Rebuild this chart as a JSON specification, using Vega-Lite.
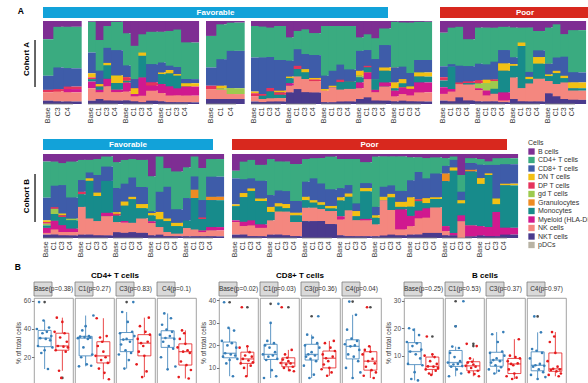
{
"$schema": "https://vega.github.io/schema/vega-lite/v6.json",
"background": "white",
"padding": {"left": 5, "top": 6, "right": 0, "bottom": 0},
"config": {"font": "Liberation Sans", "view": {"stroke": null}, "axis": {"grid": false}},
"datasets": {
"names": [
{"key":"B","cell":"B cells"},{"key":"CD4","cell":"CD4+ T cells"},{"key":"CD8","cell":"CD8+ T cells"},{"key":"DN","cell":"DN T cells"},{"key":"DP","cell":"DP T cells"},{"key":"gd","cell":"gd T cells"},{"key":"Gran","cell":"Granulocytes"},{"key":"Mono","cell":"Monocytes"},{"key":"Myel","cell":"Myeloid (HLA-DR+)"},{"key":"NK","cell":"NK cells"},{"key":"NKT","cell":"NKT cells"},{"key":"pDC","cell":"pDCs"}
],
"bars": [
{"c":"A","g":"Favorable","p":1,"t":"Base","B":22,"CD4":44,"CD8":17,"DP":3,"NK":10,"NKT":4},
{"c":"A","g":"Favorable","p":1,"t":"C3","B":7,"CD4":49,"CD8":26,"DP":3,"NK":12,"NKT":3},
{"c":"A","g":"Favorable","p":1,"t":"C4","B":7,"CD4":50,"CD8":22,"DP":3,"Myel":4,"NK":11,"NKT":3},
{"c":"A","g":"Favorable","p":2,"t":"Base","B":1,"CD4":37,"CD8":25,"DN":5,"DP":2,"Mono":3,"Myel":8,"NK":15,"NKT":4},
{"c":"A","g":"Favorable","p":2,"t":"C1","B":23,"CD4":37,"CD8":16,"DN":3,"Mono":4,"Myel":3,"NK":8,"NKT":6},
{"c":"A","g":"Favorable","p":2,"t":"C3","B":6,"CD4":26,"CD8":18,"DN":3,"Mono":16,"Myel":9,"NK":17,"NKT":4},
{"c":"A","g":"Favorable","p":2,"t":"C4","B":1,"CD4":34,"CD8":30,"DN":9,"Mono":8,"Myel":3,"NK":10,"NKT":4},
{"c":"A","g":"Favorable","p":3,"t":"Base","B":14,"CD4":36,"CD8":13,"DP":4,"Mono":2,"Myel":10,"NK":10,"NKT":4},
{"c":"A","g":"Favorable","p":3,"t":"C1","B":30,"CD4":40,"CD8":11,"DN":7,"Myel":3,"NK":6,"NKT":3},
{"c":"A","g":"Favorable","p":3,"t":"C3","B":16,"CD4":22,"DN":4,"Mono":26,"Myel":22,"NK":8,"NKT":2},
{"c":"A","g":"Favorable","p":3,"t":"C4","B":13,"CD4":39,"CD8":22,"DP":4,"Myel":6,"NK":12,"NKT":4},
{"c":"A","g":"Favorable","p":4,"t":"Base","B":13,"CD4":37,"CD8":12,"DN":2,"Mono":12,"Myel":11,"NK":10,"NKT":3},
{"c":"A","g":"Favorable","p":4,"t":"C1","B":12,"CD4":42,"CD8":5,"DN":4,"Mono":16,"Myel":11,"NK":8,"NKT":2},
{"c":"A","g":"Favorable","p":4,"t":"C3","B":10,"CD4":44,"CD8":8,"DN":2,"Mono":15,"Myel":8,"NK":8,"NKT":2},
{"c":"A","g":"Favorable","p":4,"t":"C4","B":26,"CD4":44,"CD8":5,"DN":4,"Myel":11,"NK":8,"NKT":2},
{"c":"A","g":"Favorable","p":5,"t":"Base","B":18,"CD4":38,"CD8":22,"DP":4,"NK":12,"NKT":6},
{"c":"A","g":"Favorable","p":5,"t":"C1","B":4,"CD4":42,"CD8":32,"DN":3,"gd":2,"NK":11,"NKT":6},
{"c":"A","g":"Favorable","p":5,"t":"C4","B":2,"CD4":34,"CD8":45,"gd":7,"NK":6,"NKT":6},
{"c":"A","g":"Favorable","p":6,"t":"Base","B":6,"CD4":38,"CD8":41,"DN":2,"DP":4,"NK":6,"NKT":3},
{"c":"A","g":"Favorable","p":6,"t":"C1","B":7,"CD4":37,"CD8":44,"DP":2,"Mono":4,"NK":4,"NKT":2},
{"c":"A","g":"Favorable","p":6,"t":"C3","B":8,"CD4":35,"CD8":37,"DP":4,"Mono":8,"NK":4,"NKT":3},
{"c":"A","g":"Favorable","p":6,"t":"C4","B":6,"CD4":41,"CD8":37,"DN":2,"DP":3,"Mono":4,"NK":4,"NKT":3},
{"c":"A","g":"Favorable","p":7,"t":"Base","B":20,"CD4":28,"CD8":19,"DN":2,"Mono":6,"Myel":3,"NK":8,"NKT":14},
{"c":"A","g":"Favorable","p":7,"t":"C1","B":12,"CD4":22,"CD8":20,"DP":4,"Mono":9,"NK":15,"NKT":18},
{"c":"A","g":"Favorable","p":7,"t":"C3","B":10,"CD4":30,"CD8":18,"DN":4,"Mono":8,"NK":16,"NKT":14},
{"c":"A","g":"Favorable","p":7,"t":"C4","B":15,"CD4":27,"CD8":28,"DN":2,"DP":2,"NK":14,"NKT":14},
{"c":"A","g":"Favorable","p":8,"t":"Base","B":6,"CD4":60,"CD8":16,"DN":2,"NK":14,"NKT":2},
{"c":"A","g":"Favorable","p":8,"t":"C1","B":6,"CD4":54,"CD8":18,"DN":2,"NK":18,"NKT":2},
{"c":"A","g":"Favorable","p":8,"t":"C3","B":6,"CD4":46,"CD8":18,"DP":3,"Mono":9,"NK":14,"NKT":3},
{"c":"A","g":"Favorable","p":8,"t":"C4","B":6,"CD4":52,"CD8":14,"Mono":9,"NK":15,"NKT":3},
{"c":"A","g":"Favorable","p":9,"t":"Base","B":20,"CD4":16,"CD8":24,"DN":6,"gd":2,"Mono":6,"Myel":7,"NK":13,"NKT":6},
{"c":"A","g":"Favorable","p":9,"t":"C1","B":16,"CD4":19,"CD8":19,"DP":2,"Mono":6,"Myel":8,"NK":22,"NKT":8},
{"c":"A","g":"Favorable","p":9,"t":"C3","B":21,"CD4":25,"CD8":24,"Mono":13,"Myel":3,"NK":10,"NKT":4},
{"c":"A","g":"Favorable","p":9,"t":"C4","B":9,"CD4":20,"CD8":27,"DN":4,"Mono":14,"Myel":5,"NK":17,"NKT":4},
{"c":"A","g":"Favorable","p":10,"t":"Base","B":1,"CD4":55,"CD8":18,"DN":7,"Mono":3,"Myel":7,"NK":6,"NKT":3},
{"c":"A","g":"Favorable","p":10,"t":"C1","B":2,"CD4":53,"CD8":15,"DN":5,"Mono":5,"Myel":8,"NK":8,"NKT":4},
{"c":"A","g":"Favorable","p":10,"t":"C3","B":2,"CD4":60,"CD8":16,"DN":3,"Myel":8,"NK":7,"NKT":3},
{"c":"A","g":"Favorable","p":10,"t":"C4","B":1,"CD4":46,"CD8":15,"DN":5,"Mono":7,"Myel":12,"NK":11,"NKT":3},
{"c":"A","g":"Poor","p":11,"t":"Base","B":14,"CD4":40,"CD8":13,"DP":4,"Mono":8,"Myel":8,"NK":8,"NKT":4},
{"c":"A","g":"Poor","p":11,"t":"C1","B":8,"CD4":44,"CD8":3,"Mono":27,"Myel":3,"NK":12,"NKT":3},
{"c":"A","g":"Poor","p":11,"t":"C3","B":7,"CD4":47,"CD8":20,"DP":2,"NK":16,"NKT":8},
{"c":"A","g":"Poor","p":11,"t":"C4","B":22,"CD4":32,"CD8":18,"DP":2,"Mono":2,"NK":19,"NKT":4},
{"c":"A","g":"Poor","p":12,"t":"Base","B":8,"CD4":44,"CD8":20,"DP":4,"gd":6,"Myel":2,"NK":14,"NKT":3},
{"c":"A","g":"Poor","p":12,"t":"C1","B":8,"CD4":44,"CD8":18,"DN":4,"gd":9,"Myel":6,"NK":7,"NKT":3},
{"c":"A","g":"Poor","p":12,"t":"C3","B":8,"CD4":40,"CD8":21,"DP":2,"gd":9,"Mono":6,"NK":9,"NKT":3},
{"c":"A","g":"Poor","p":12,"t":"C4","B":7,"CD4":28,"CD8":16,"DN":9,"Mono":26,"Myel":10,"NK":2,"NKT":2},
{"c":"A","g":"Poor","p":13,"t":"Base","B":8,"CD4":36,"CD8":8,"DN":2,"Mono":14,"NK":26,"NKT":6},
{"c":"A","g":"Poor","p":13,"t":"C1","B":8,"CD4":18,"DN":4,"Mono":51,"NK":16,"NKT":3},
{"c":"A","g":"Poor","p":13,"t":"C3","B":8,"CD4":54,"CD8":6,"DN":3,"Mono":5,"NK":22,"NKT":3},
{"c":"A","g":"Poor","p":13,"t":"C4","B":12,"CD4":23,"CD8":8,"DN":8,"Mono":18,"NK":27,"NKT":3},
{"c":"A","g":"Poor","p":14,"t":"Base","B":8,"CD4":44,"CD8":13,"DN":2,"Mono":6,"NK":15,"NKT":13},
{"c":"A","g":"Poor","p":14,"t":"C1","B":4,"CD4":40,"CD8":16,"DN":3,"Mono":13,"NK":15,"NKT":9},
{"c":"A","g":"Poor","p":14,"t":"C3","B":16,"CD4":27,"CD8":23,"DN":3,"Mono":5,"NK":20,"NKT":6},
{"c":"A","g":"Poor","p":14,"t":"C4","B":11,"CD4":51,"CD8":12,"DN":7,"Mono":3,"NK":11,"NKT":5},
{"c":"A","g":"Poor","p":15,"t":"Base","B":4,"CD4":32,"CD8":14,"DN":2,"gd":10,"Mono":22,"Myel":5,"NK":7,"NKT":4},
{"c":"A","g":"Poor","p":15,"t":"C1","B":4,"CD4":56,"CD8":14,"DN":3,"gd":4,"Myel":7,"NK":7,"NKT":5},
{"c":"A","g":"Poor","p":15,"t":"C4","B":4,"CD4":34,"CD8":13,"DN":3,"gd":14,"Mono":11,"Myel":6,"NK":11,"NKT":4},
{"c":"B","g":"Favorable","p":1,"t":"Base","B":9,"CD4":43,"CD8":27,"DN":2,"DP":2,"gd":2,"Mono":3,"Myel":6,"NK":2,"NKT":4},
{"c":"B","g":"Favorable","p":1,"t":"C1","B":9,"CD4":28,"CD8":25,"DP":2,"gd":6,"Mono":8,"Myel":10,"NK":6,"NKT":4},
{"c":"B","g":"Favorable","p":1,"t":"C3","B":11,"CD4":26,"CD8":34,"DN":2,"DP":2,"Mono":10,"Myel":8,"NK":4,"NKT":3},
{"c":"B","g":"Favorable","p":1,"t":"C4","B":9,"CD4":43,"CD8":25,"gd":2,"Mono":10,"Myel":4,"NK":4,"NKT":3},
{"c":"B","g":"Favorable","p":2,"t":"Base","B":7,"CD4":24,"CD8":14,"DP":3,"Mono":15,"NK":33,"NKT":4},
{"c":"B","g":"Favorable","p":2,"t":"C1","B":7,"CD4":15,"CD8":7,"DN":3,"Mono":45,"NK":19,"NKT":4},
{"c":"B","g":"Favorable","p":2,"t":"C3","B":6,"CD4":19,"CD8":21,"DN":4,"Mono":30,"NK":17,"NKT":3},
{"c":"B","g":"Favorable","p":2,"t":"C4","B":3,"CD4":12,"CD8":17,"Mono":38,"Myel":4,"NK":23,"NKT":3},
{"c":"B","g":"Favorable","p":3,"t":"Base","B":10,"CD4":31,"CD8":29,"DN":2,"DP":2,"Mono":8,"NK":12,"NKT":7},
{"c":"B","g":"Favorable","p":3,"t":"C1","B":7,"CD4":28,"CD8":21,"DN":5,"Mono":18,"Myel":2,"NK":12,"NKT":6},
{"c":"B","g":"Favorable","p":3,"t":"C3","B":6,"CD4":22,"CD8":23,"DN":3,"Mono":28,"NK":11,"NKT":7},
{"c":"B","g":"Favorable","p":3,"t":"C4","B":7,"CD4":32,"CD8":20,"DN":5,"Mono":12,"NK":17,"NKT":6},
{"c":"B","g":"Favorable","p":4,"t":"Base","B":27,"CD4":42,"CD8":2,"DN":3,"Mono":7,"Myel":2,"NK":15,"NKT":3},
{"c":"B","g":"Favorable","p":4,"t":"C1","B":3,"CD4":42,"CD8":24,"DN":9,"Mono":9,"NK":9,"NKT":4},
{"c":"B","g":"Favorable","p":4,"t":"C3","B":17,"CD4":22,"CD8":38,"DN":3,"Mono":13,"NK":5,"NKT":2},
{"c":"B","g":"Favorable","p":4,"t":"C4","B":21,"CD4":45,"CD8":16,"DN":4,"Mono":9,"NK":3,"NKT":2},
{"c":"B","g":"Favorable","p":5,"t":"Base","B":16,"CD4":37,"CD8":27,"Mono":9,"NK":10,"NKT":2},
{"c":"B","g":"Favorable","p":5,"t":"C1","B":3,"CD4":24,"CD8":16,"Gran":10,"Mono":38,"NK":8,"NKT":2},
{"c":"B","g":"Favorable","p":5,"t":"C3","B":17,"CD4":39,"CD8":21,"DP":2,"Mono":14,"Myel":2,"NK":5,"NKT":2},
{"c":"B","g":"Favorable","p":5,"t":"C4","B":6,"CD4":21,"CD8":24,"Gran":4,"Mono":32,"Myel":4,"NK":7,"NKT":2},
{"c":"B","g":"Poor","p":6,"t":"Base","B":20,"CD4":9,"CD8":31,"DN":2,"Mono":17,"Myel":2,"NK":15,"NKT":4},
{"c":"B","g":"Poor","p":6,"t":"C1","B":9,"CD4":21,"CD8":16,"DN":5,"Mono":29,"Myel":5,"NK":10,"NKT":4},
{"c":"B","g":"Poor","p":6,"t":"C3","B":7,"CD4":22,"CD8":12,"DN":3,"Mono":35,"Myel":6,"NK":13,"NKT":2},
{"c":"B","g":"Poor","p":6,"t":"C4","B":13,"CD4":19,"CD8":21,"DN":3,"Mono":28,"Myel":4,"NK":10,"NKT":2},
{"c":"B","g":"Poor","p":7,"t":"Base","B":6,"CD4":43,"CD8":14,"DN":6,"Mono":10,"NK":17,"NKT":4},
{"c":"B","g":"Poor","p":7,"t":"C1","B":9,"CD4":34,"CD8":15,"DN":4,"Mono":6,"NK":27,"NKT":4},
{"c":"B","g":"Poor","p":7,"t":"C3","B":9,"CD4":35,"CD8":15,"DN":5,"Mono":4,"NK":28,"NKT":3},
{"c":"B","g":"Poor","p":7,"t":"C4","B":12,"CD4":44,"CD8":14,"DN":3,"Mono":8,"NK":17,"NKT":2},
{"c":"B","g":"Poor","p":8,"t":"Base","B":6,"CD4":27,"CD8":18,"DN":4,"Mono":9,"NK":16,"NKT":20},
{"c":"B","g":"Poor","p":8,"t":"C1","B":5,"CD4":24,"CD8":26,"DN":3,"Mono":6,"NK":16,"NKT":20},
{"c":"B","g":"Poor","p":8,"t":"C3","B":5,"CD4":30,"CD8":22,"DN":3,"Mono":5,"NK":14,"NKT":20},
{"c":"B","g":"Poor","p":8,"t":"C4","B":3,"CD4":38,"CD8":19,"DN":3,"Mono":3,"NK":15,"NKT":16},
{"c":"B","g":"Poor","p":9,"t":"Base","B":6,"CD4":35,"CD8":11,"DN":4,"Mono":19,"Myel":4,"NK":19,"NKT":3},
{"c":"B","g":"Poor","p":9,"t":"C1","B":6,"CD4":31,"CD8":10,"DN":4,"Mono":16,"NK":31,"NKT":2},
{"c":"B","g":"Poor","p":9,"t":"C3","B":6,"CD4":53,"CD8":9,"DN":6,"Mono":5,"NK":19,"NKT":2},
{"c":"B","g":"Poor","p":9,"t":"C4","B":10,"CD4":25,"CD8":6,"DN":4,"Mono":33,"Myel":2,"NK":19,"NKT":2},
{"c":"B","g":"Poor","p":10,"t":"Base","B":3,"CD4":60,"CD8":10,"DN":3,"Mono":8,"NK":14,"NKT":2},
{"c":"B","g":"Poor","p":10,"t":"C1","B":3,"CD4":36,"CD8":12,"DN":4,"NK":42,"NKT":3},
{"c":"B","g":"Poor","p":10,"t":"C3","B":3,"CD4":34,"CD8":10,"DN":4,"Mono":15,"NK":29,"NKT":4},
{"c":"B","g":"Poor","p":10,"t":"C4","B":3,"CD4":41,"CD8":13,"DN":6,"Mono":3,"Myel":24,"NK":7,"NKT":3},
{"c":"B","g":"Poor","p":11,"t":"Base","B":4,"CD4":27,"CD8":20,"DN":11,"Mono":11,"Myel":12,"NK":10,"NKT":4},
{"c":"B","g":"Poor","p":11,"t":"C1","B":4,"CD4":17,"CD8":32,"DP":2,"Mono":11,"Myel":9,"NK":19,"NKT":4},
{"c":"B","g":"Poor","p":11,"t":"C3","B":5,"CD4":24,"CD8":23,"DN":6,"Mono":6,"Myel":11,"NK":18,"NKT":6},
{"c":"B","g":"Poor","p":11,"t":"C4","B":4,"CD4":19,"CD8":28,"DN":2,"Mono":10,"NK":30,"NKT":6},
{"c":"B","g":"Poor","p":12,"t":"Base","B":5,"CD4":9,"CD8":9,"Gran":9,"Mono":53,"Myel":6,"NK":5,"NKT":3},
{"c":"B","g":"Poor","p":12,"t":"C1","B":3,"CD4":4,"CD8":9,"DN":4,"Mono":74,"Myel":3,"NKT":3},
{"c":"B","g":"Poor","p":12,"t":"C3","B":25,"CD4":20,"CD8":10,"DN":4,"Mono":14,"Myel":7,"NK":20},
{"c":"B","g":"Poor","p":12,"t":"C4","B":5,"CD4":6,"CD8":8,"Gran":2,"Mono":65,"Myel":13,"NKT":2},
{"c":"B","g":"Poor","p":13,"t":"Base","B":6,"CD4":7,"CD8":16,"DN":7,"Mono":51,"Myel":11,"NKT":3},
{"c":"B","g":"Poor","p":13,"t":"C1","B":9,"CD4":4,"CD8":10,"DN":2,"Mono":62,"Myel":11,"NKT":2},
{"c":"B","g":"Poor","p":13,"t":"C3","B":5,"CD4":8,"CD8":40,"DN":7,"Mono":9,"Myel":29,"NKT":2},
{"c":"B","g":"Poor","p":13,"t":"C4","B":5,"CD4":7,"CD8":23,"DN":2,"Mono":50,"Myel":8,"NKT":4}
],
"strips": [
{"cell":"CD4","t":"Base","lab":"Base(p=0.38)"},{"cell":"CD4","t":"C1","lab":"C1(p=0.27)"},{"cell":"CD4","t":"C3","lab":"C3(p=0.83)"},{"cell":"CD4","t":"C4","lab":"C4(p=0.1)"},
{"cell":"CD8","t":"Base","lab":"Base(p=0.02)"},{"cell":"CD8","t":"C1","lab":"C1(p=0.03)"},{"cell":"CD8","t":"C3","lab":"C3(p=0.36)"},{"cell":"CD8","t":"C4","lab":"C4(p=0.04)"},
{"cell":"B","t":"Base","lab":"Base(p=0.25)"},{"cell":"B","t":"C1","lab":"C1(p=0.53)"},{"cell":"B","t":"C3","lab":"C3(p=0.37)"},{"cell":"B","t":"C4","lab":"C4(p=0.97)"}
],
"box": [
{"cell":"CD4","g":"Favorable","id":1,"Base":40,"C1":33.5,"C3":22,"C4":36},
{"cell":"CD4","g":"Favorable","id":2,"Base":28,"C1":13.6,"C3":37,"C4":20},
{"cell":"CD4","g":"Favorable","id":3,"Base":59,"C1":34.6,"C3":29,"C4":43},
{"cell":"CD4","g":"Favorable","id":4,"Base":33.5,"C1":20,"C3":52,"C4":31},
{"cell":"CD4","g":"Favorable","id":5,"Base":23,"C1":39,"C3":32.5,"C4":51},
{"cell":"CD4","g":"Favorable","id":6,"Base":37,"C1":27,"C3":12,"C4":33.6},
{"cell":"CD4","g":"Favorable","id":7,"Base":46,"C1":34.3,"C3":25,"C4":39.5},
{"cell":"CD4","g":"Favorable","id":8,"Base":25,"C1":42,"C3":33,"C4":11.5},
{"cell":"CD4","g":"Favorable","id":9,"Base":33,"C1":15,"C3":45,"C4":28},
{"cell":"CD4","g":"Favorable","id":10,"Base":38,"C1":33,"C3":18,"C4":35},
{"cell":"CD4","g":"Favorable","id":11,"Base":11.7,"C1":35,"C3":31,"C4":47.6},
{"cell":"CD4","g":"Favorable","id":12,"Base":41,"C1":34,"C3":23,"C4":38},
{"cell":"CD4","g":"Favorable","id":13,"Base":32,"C1":14,"C3":38,"C4":26},
{"cell":"CD4","g":"Favorable","id":14,"Base":35,"C1":22,"C3":59,"C4":33},
{"cell":"CD4","g":"Favorable","id":15,"Base":27,"C1":49.5,"C3":35,"C4":13.5},
{"cell":"CD4","g":"Poor","id":1,"Base":38,"C1":21,"C3":15,"C4":27},
{"cell":"CD4","g":"Poor","id":2,"Base":25,"C1":47.6,"C3":33,"C4":6},
{"cell":"CD4","g":"Poor","id":3,"Base":48,"C1":28,"C3":24,"C4":33},
{"cell":"CD4","g":"Poor","id":4,"Base":28,"C1":12,"C3":42,"C4":17},
{"cell":"CD4","g":"Poor","id":5,"Base":10.5,"C1":34,"C3":30,"C4":39},
{"cell":"CD4","g":"Poor","id":6,"Base":34,"C1":18,"C3":6,"C4":24},
{"cell":"CD4","g":"Poor","id":7,"Base":5.4,"C1":31,"C3":28,"C4":37},
{"cell":"CD4","g":"Poor","id":8,"Base":45,"C1":24,"C3":21,"C4":29.5},
{"cell":"CD4","g":"Poor","id":9,"Base":27.5,"C1":9,"C3":38,"C4":14.5},
{"cell":"CD4","g":"Poor","id":10,"Base":37,"C1":20,"C3":10,"C4":25},
{"cell":"CD4","g":"Poor","id":11,"Base":24,"C1":35,"C3":31,"C4":5},
{"cell":"CD4","g":"Poor","id":12,"Base":31,"C1":16,"C3":48,"C4":23},
{"cell":"CD4","g":"Poor","id":13,"Base":27,"C1":4.5,"C3":36,"C4":11},
{"cell":"CD8","g":"Favorable","id":1,"Base":22,"C1":16,"C3":11,"C4":20.5},
{"cell":"CD8","g":"Favorable","id":2,"Base":15,"C1":5.5,"C3":20,"C4":10},
{"cell":"CD8","g":"Favorable","id":3,"Base":39.2,"C1":20,"C3":15,"C4":27},
{"cell":"CD8","g":"Favorable","id":4,"Base":16.5,"C1":13.5,"C3":24.8,"C4":16},
{"cell":"CD8","g":"Favorable","id":5,"Base":12,"C1":22,"C3":16,"C4":39.5},
{"cell":"CD8","g":"Favorable","id":6,"Base":20,"C1":15,"C3":5.5,"C4":19.6},
{"cell":"CD8","g":"Favorable","id":7,"Base":27.8,"C1":19,"C3":14,"C4":23},
{"cell":"CD8","g":"Favorable","id":8,"Base":13.5,"C1":30,"C3":17,"C4":5.5},
{"cell":"CD8","g":"Favorable","id":9,"Base":16,"C1":9,"C3":23.5,"C4":15},
{"cell":"CD8","g":"Favorable","id":10,"Base":21,"C1":15.5,"C3":7,"C4":20},
{"cell":"CD8","g":"Favorable","id":11,"Base":6.3,"C1":21,"C3":15.5,"C4":33.6},
{"cell":"CD8","g":"Favorable","id":12,"Base":26.6,"C1":17,"C3":13,"C4":22},
{"cell":"CD8","g":"Favorable","id":13,"Base":15.5,"C1":6.3,"C3":21,"C4":13},
{"cell":"CD8","g":"Favorable","id":14,"Base":19,"C1":14,"C3":33,"C4":18},
{"cell":"CD8","g":"Favorable","id":15,"Base":14,"C1":38.5,"C3":19,"C4":8},
{"cell":"CD8","g":"Poor","id":1,"Base":19,"C1":12.2,"C3":9.4,"C4":16},
{"cell":"CD8","g":"Poor","id":2,"Base":12,"C1":37,"C3":16,"C4":6.5},
{"cell":"CD8","g":"Poor","id":3,"Base":37,"C1":13.7,"C3":11.5,"C4":18},
{"cell":"CD8","g":"Poor","id":4,"Base":14,"C1":10,"C3":21,"C4":10.5},
{"cell":"CD8","g":"Poor","id":5,"Base":10,"C1":16,"C3":14.3,"C4":37},
{"cell":"CD8","g":"Poor","id":6,"Base":15.5,"C1":11.5,"C3":6.5,"C4":13},
{"cell":"CD8","g":"Poor","id":7,"Base":6.3,"C1":14.5,"C3":13,"C4":19.6},
{"cell":"CD8","g":"Poor","id":8,"Base":19.6,"C1":13,"C3":10,"C4":17.2},
{"cell":"CD8","g":"Poor","id":9,"Base":13.3,"C1":9,"C3":19,"C4":9},
{"cell":"CD8","g":"Poor","id":10,"Base":17,"C1":12,"C3":8,"C4":14},
{"cell":"CD8","g":"Poor","id":11,"Base":11,"C1":18,"C3":15,"C4":5.5},
{"cell":"CD8","g":"Poor","id":12,"Base":15,"C1":10.5,"C3":22,"C4":12},
{"cell":"CD8","g":"Poor","id":13,"Base":12.5,"C1":8.5,"C3":17.5,"C4":8},
{"cell":"B","g":"Favorable","id":1,"Base":15,"C1":7.5,"C3":5,"C4":9},
{"cell":"B","g":"Favorable","id":2,"Base":7,"C1":2.5,"C3":11,"C4":3},
{"cell":"B","g":"Favorable","id":3,"Base":20,"C1":11,"C3":7.5,"C4":12.4},
{"cell":"B","g":"Favorable","id":4,"Base":11.5,"C1":6,"C3":17.8,"C4":6},
{"cell":"B","g":"Favorable","id":5,"Base":1.5,"C1":13.3,"C3":8.4,"C4":24.3},
{"cell":"B","g":"Favorable","id":6,"Base":13.5,"C1":6.8,"C3":3.5,"C4":6.5},
{"cell":"B","g":"Favorable","id":7,"Base":19.4,"C1":9.5,"C3":6.5,"C4":11.8},
{"cell":"B","g":"Favorable","id":8,"Base":4,"C1":20.7,"C3":9,"C4":1.5},
{"cell":"B","g":"Favorable","id":9,"Base":10.5,"C1":5,"C3":15,"C4":5},
{"cell":"B","g":"Favorable","id":10,"Base":14.5,"C1":7,"C3":4.5,"C4":7},
{"cell":"B","g":"Favorable","id":11,"Base":1,"C1":12.8,"C3":8,"C4":18.5},
{"cell":"B","g":"Favorable","id":12,"Base":17.5,"C1":8,"C3":5.8,"C4":11},
{"cell":"B","g":"Favorable","id":13,"Base":9,"C1":3.5,"C3":11.5,"C4":4},
{"cell":"B","g":"Favorable","id":14,"Base":12.2,"C1":6.2,"C3":18.6,"C4":6.3},
{"cell":"B","g":"Favorable","id":15,"Base":6.5,"C1":29.8,"C3":10,"C4":2.2},
{"cell":"B","g":"Poor","id":1,"Base":10,"C1":6.3,"C3":2.5,"C4":8},
{"cell":"B","g":"Poor","id":2,"Base":5,"C1":14.3,"C3":8,"C4":3},
{"cell":"B","g":"Poor","id":3,"Base":17,"C1":7.5,"C3":5,"C4":15},
{"cell":"B","g":"Poor","id":4,"Base":6.1,"C1":4,"C3":10,"C4":4.8},
{"cell":"B","g":"Poor","id":5,"Base":3.5,"C1":9,"C3":7,"C4":18.6},
{"cell":"B","g":"Poor","id":6,"Base":8,"C1":5.5,"C3":1.5,"C4":5.2},
{"cell":"B","g":"Poor","id":7,"Base":3,"C1":7.8,"C3":6.5,"C4":17},
{"cell":"B","g":"Poor","id":8,"Base":10.5,"C1":6.8,"C3":3.5,"C4":11},
{"cell":"B","g":"Poor","id":9,"Base":6,"C1":3.3,"C3":9.5,"C4":4.3},
{"cell":"B","g":"Poor","id":10,"Base":9.5,"C1":6,"C3":2,"C4":6},
{"cell":"B","g":"Poor","id":11,"Base":4.5,"C1":13.5,"C3":7.2,"C4":2.5},
{"cell":"B","g":"Poor","id":12,"Base":7,"C1":4.5,"C3":16,"C4":5},
{"cell":"B","g":"Poor","id":13,"Base":5.5,"C1":2.5,"C3":9,"C4":3.5}
]
},
"vconcat": [
{
"vconcat": [
{
"hconcat": [
{
"width": 29, "height": 97,
"data": {"values": [{"a": "A", "c": "Cohort A"}]},
"layer": [
{"mark": {"type": "text", "fontSize": 8.5, "fontWeight": "bold", "color": "black"},
 "encoding": {"x": {"datum": 0.48, "type": "quantitative", "scale": {"domain": [0, 1], "nice": false, "zero": false}, "axis": null},
              "y": {"datum": 0.959, "type": "quantitative", "scale": {"domain": [0, 1], "nice": false, "zero": false}, "axis": null},
              "text": {"field": "a"}}},
{"mark": {"type": "text", "fontSize": 8, "fontWeight": "bold", "angle": 270, "color": "black"},
 "encoding": {"x": {"datum": 0.69, "type": "quantitative"}, "y": {"datum": 0.464, "type": "quantitative"}, "text": {"field": "c"}}},
{"mark": {"type": "rule", "color": "black", "strokeWidth": 1.2},
 "encoding": {"x": {"datum": 0.966, "type": "quantitative"}, "y": {"datum": 0.175, "type": "quantitative"}, "y2": {"datum": 0.66}}}
]
},
{
"vconcat": [
{"width": 345, "height": 11, "data": {"values": [{"g": "Favorable"}]},
 "layer": [
  {"mark": {"type": "rect", "color": "#12A2D9", "opacity": 1},
   "encoding": {"x": {"datum": 0, "type": "quantitative", "scale": {"domain": [0, 1], "nice": false, "zero": false}, "axis": null}, "x2": {"datum": 1}}},
  {"mark": {"type": "text", "color": "white", "fontWeight": "bold", "fontSize": 8},
   "encoding": {"x": {"datum": 0.5, "type": "quantitative"}, "text": {"field": "g"}}}
 ]},
{"data": {"name": "bars"},
 "transform": [
  {"filter": "datum.c == 'A'"},
  {"fold": ["B","CD4","CD8","DN","DP","gd","Gran","Mono","Myel","NK","NKT","pDC"], "as": ["key","v"]},
  {"filter": "isValid(datum.v)"},
  {"lookup": "key", "from": {"data": {"name": "names"}, "key": "key", "fields": ["cell"]}},
  {"calculate": "indexof(['B','CD4','CD8','DN','DP','gd','Gran','Mono','Myel','NK','NKT','pDC'], datum.key)", "as": "k"}
 ],
 "hconcat": [
  {"transform": [{"filter": "datum.p == 1"}], "width": 30, "height": 83,
   "layer": [
    {"mark": "bar", "encoding": {"x": {"field": "t", "type": "nominal", "axis": null, "scale": {"paddingInner": 0.1, "paddingOuter": 0}}, "y": {"field": "v", "type": "quantitative", "stack": "normalize", "axis": null, "scale": {"domain": [0, 1], "nice": false, "zero": false}}, "color": {"field": "cell", "type": "nominal", "legend": null, "scale": {"domain": ["B cells","CD4+ T cells","CD8+ T cells","DN T cells","DP T cells","gd T cells","Granulocytes","Monocytes","Myeloid (HLA-DR+)","NK cells","NKT cells","pDCs"], "range": ["#7E2E93","#3AAB80","#3E5CA9","#F2C014","#E5335C","#9DCA4E","#EE8B22","#178B8B","#D0198F","#F4877F","#4A3A8D","#B8B3A4"]}}, "order": {"field": "k", "type": "quantitative", "sort": "descending"}}},
    {"transform": [{"aggregate": [{"op": "count", "as": "n"}], "groupby": ["p"]}], "mark": {"type": "rule", "color": "#808080", "strokeWidth": 0.8}, "encoding": {"y": {"datum": 0, "type": "quantitative"}}},
    {"transform": [{"aggregate": [{"op": "count", "as": "n"}], "groupby": ["p", "t"]}], "mark": {"type": "text", "angle": 270, "align": "right", "baseline": "middle", "fontSize": 7, "color": "#333333"}, "encoding": {"x": {"field": "t", "type": "nominal", "axis": null}, "y": {"datum": -0.04, "type": "quantitative"}, "text": {"field": "t"}}}
   ]},
  {"transform": [{"filter": "datum.p >= 2 && datum.p <= 4"}],
   "facet": {"column": {"field": "p", "type": "ordinal", "header": null}}, "spacing": {"column": 5}, "bounds": "flush",
   "spec": {"width": 30, "height": 83,
   "layer": [
    {"mark": "bar", "encoding": {"x": {"field": "t", "type": "nominal", "axis": null, "scale": {"paddingInner": 0.1, "paddingOuter": 0}}, "y": {"field": "v", "type": "quantitative", "stack": "normalize", "axis": null, "scale": {"domain": [0, 1], "nice": false, "zero": false}}, "color": {"field": "cell", "type": "nominal", "legend": null, "scale": {"domain": ["B cells","CD4+ T cells","CD8+ T cells","DN T cells","DP T cells","gd T cells","Granulocytes","Monocytes","Myeloid (HLA-DR+)","NK cells","NKT cells","pDCs"], "range": ["#7E2E93","#3AAB80","#3E5CA9","#F2C014","#E5335C","#9DCA4E","#EE8B22","#178B8B","#D0198F","#F4877F","#4A3A8D","#B8B3A4"]}}, "order": {"field": "k", "type": "quantitative", "sort": "descending"}}},
    {"transform": [{"aggregate": [{"op": "count", "as": "n"}], "groupby": ["p"]}], "mark": {"type": "rule", "color": "#808080", "strokeWidth": 0.8}, "encoding": {"y": {"datum": 0, "type": "quantitative"}}},
    {"transform": [{"aggregate": [{"op": "count", "as": "n"}], "groupby": ["p", "t"]}], "mark": {"type": "text", "angle": 270, "align": "right", "baseline": "middle", "fontSize": 7, "color": "#333333"}, "encoding": {"x": {"field": "t", "type": "nominal", "axis": null}, "y": {"datum": -0.04, "type": "quantitative"}, "text": {"field": "t"}}}
   ]}},
  {"transform": [{"filter": "datum.p == 5"}], "width": 30, "height": 83,
   "layer": [
    {"mark": "bar", "encoding": {"x": {"field": "t", "type": "nominal", "axis": null, "scale": {"paddingInner": 0.1, "paddingOuter": 0}}, "y": {"field": "v", "type": "quantitative", "stack": "normalize", "axis": null, "scale": {"domain": [0, 1], "nice": false, "zero": false}}, "color": {"field": "cell", "type": "nominal", "legend": null, "scale": {"domain": ["B cells","CD4+ T cells","CD8+ T cells","DN T cells","DP T cells","gd T cells","Granulocytes","Monocytes","Myeloid (HLA-DR+)","NK cells","NKT cells","pDCs"], "range": ["#7E2E93","#3AAB80","#3E5CA9","#F2C014","#E5335C","#9DCA4E","#EE8B22","#178B8B","#D0198F","#F4877F","#4A3A8D","#B8B3A4"]}}, "order": {"field": "k", "type": "quantitative", "sort": "descending"}}},
    {"transform": [{"aggregate": [{"op": "count", "as": "n"}], "groupby": ["p"]}], "mark": {"type": "rule", "color": "#808080", "strokeWidth": 0.8}, "encoding": {"y": {"datum": 0, "type": "quantitative"}}},
    {"transform": [{"aggregate": [{"op": "count", "as": "n"}], "groupby": ["p", "t"]}], "mark": {"type": "text", "angle": 270, "align": "right", "baseline": "middle", "fontSize": 7, "color": "#333333"}, "encoding": {"x": {"field": "t", "type": "nominal", "axis": null}, "y": {"datum": -0.04, "type": "quantitative"}, "text": {"field": "t"}}}
   ]},
  {"transform": [{"filter": "datum.p >= 6 && datum.p <= 10"}],
   "facet": {"column": {"field": "p", "type": "ordinal", "header": null}}, "spacing": {"column": 5}, "bounds": "flush",
   "spec": {"width": 30, "height": 83,
   "layer": [
    {"mark": "bar", "encoding": {"x": {"field": "t", "type": "nominal", "axis": null, "scale": {"paddingInner": 0.1, "paddingOuter": 0}}, "y": {"field": "v", "type": "quantitative", "stack": "normalize", "axis": null, "scale": {"domain": [0, 1], "nice": false, "zero": false}}, "color": {"field": "cell", "type": "nominal", "legend": null, "scale": {"domain": ["B cells","CD4+ T cells","CD8+ T cells","DN T cells","DP T cells","gd T cells","Granulocytes","Monocytes","Myeloid (HLA-DR+)","NK cells","NKT cells","pDCs"], "range": ["#7E2E93","#3AAB80","#3E5CA9","#F2C014","#E5335C","#9DCA4E","#EE8B22","#178B8B","#D0198F","#F4877F","#4A3A8D","#B8B3A4"]}}, "order": {"field": "k", "type": "quantitative", "sort": "descending"}}},
    {"transform": [{"aggregate": [{"op": "count", "as": "n"}], "groupby": ["p"]}], "mark": {"type": "rule", "color": "#808080", "strokeWidth": 0.8}, "encoding": {"y": {"datum": 0, "type": "quantitative"}}},
    {"transform": [{"aggregate": [{"op": "count", "as": "n"}], "groupby": ["p", "t"]}], "mark": {"type": "text", "angle": 270, "align": "right", "baseline": "middle", "fontSize": 7, "color": "#333333"}, "encoding": {"x": {"field": "t", "type": "nominal", "axis": null}, "y": {"datum": -0.04, "type": "quantitative"}, "text": {"field": "t"}}}
   ]}}
 ],
 "spacing": 5}
],
"spacing": 3
},
{
"vconcat": [
{"width": 170, "height": 11, "data": {"values": [{"g": "Poor"}]},
 "layer": [
  {"mark": {"type": "rect", "color": "#D8281E", "opacity": 1},
   "encoding": {"x": {"datum": 0, "type": "quantitative", "scale": {"domain": [0, 1], "nice": false, "zero": false}, "axis": null}, "x2": {"datum": 1}}},
  {"mark": {"type": "text", "color": "white", "fontWeight": "bold", "fontSize": 8},
   "encoding": {"x": {"datum": 0.5, "type": "quantitative"}, "text": {"field": "g"}}}
 ]},
{"data": {"name": "bars"},
 "transform": [
  {"filter": "datum.c == 'A'"},
  {"fold": ["B","CD4","CD8","DN","DP","gd","Gran","Mono","Myel","NK","NKT","pDC"], "as": ["key","v"]},
  {"filter": "isValid(datum.v)"},
  {"lookup": "key", "from": {"data": {"name": "names"}, "key": "key", "fields": ["cell"]}},
  {"calculate": "indexof(['B','CD4','CD8','DN','DP','gd','Gran','Mono','Myel','NK','NKT','pDC'], datum.key)", "as": "k"}
 ],
 "hconcat": [
  {"transform": [{"filter": "datum.p >= 11 && datum.p <= 14"}],
   "facet": {"column": {"field": "p", "type": "ordinal", "header": null}}, "spacing": {"column": 5}, "bounds": "flush",
   "spec": {"width": 30, "height": 83,
   "layer": [
    {"mark": "bar", "encoding": {"x": {"field": "t", "type": "nominal", "axis": null, "scale": {"paddingInner": 0.1, "paddingOuter": 0}}, "y": {"field": "v", "type": "quantitative", "stack": "normalize", "axis": null, "scale": {"domain": [0, 1], "nice": false, "zero": false}}, "color": {"field": "cell", "type": "nominal", "legend": null, "scale": {"domain": ["B cells","CD4+ T cells","CD8+ T cells","DN T cells","DP T cells","gd T cells","Granulocytes","Monocytes","Myeloid (HLA-DR+)","NK cells","NKT cells","pDCs"], "range": ["#7E2E93","#3AAB80","#3E5CA9","#F2C014","#E5335C","#9DCA4E","#EE8B22","#178B8B","#D0198F","#F4877F","#4A3A8D","#B8B3A4"]}}, "order": {"field": "k", "type": "quantitative", "sort": "descending"}}},
    {"transform": [{"aggregate": [{"op": "count", "as": "n"}], "groupby": ["p"]}], "mark": {"type": "rule", "color": "#808080", "strokeWidth": 0.8}, "encoding": {"y": {"datum": 0, "type": "quantitative"}}},
    {"transform": [{"aggregate": [{"op": "count", "as": "n"}], "groupby": ["p", "t"]}], "mark": {"type": "text", "angle": 270, "align": "right", "baseline": "middle", "fontSize": 7, "color": "#333333"}, "encoding": {"x": {"field": "t", "type": "nominal", "axis": null}, "y": {"datum": -0.04, "type": "quantitative"}, "text": {"field": "t"}}}
   ]}},
  {"transform": [{"filter": "datum.p == 15"}], "width": 30, "height": 83,
   "layer": [
    {"mark": "bar", "encoding": {"x": {"field": "t", "type": "nominal", "axis": null, "scale": {"paddingInner": 0.1, "paddingOuter": 0}}, "y": {"field": "v", "type": "quantitative", "stack": "normalize", "axis": null, "scale": {"domain": [0, 1], "nice": false, "zero": false}}, "color": {"field": "cell", "type": "nominal", "legend": null, "scale": {"domain": ["B cells","CD4+ T cells","CD8+ T cells","DN T cells","DP T cells","gd T cells","Granulocytes","Monocytes","Myeloid (HLA-DR+)","NK cells","NKT cells","pDCs"], "range": ["#7E2E93","#3AAB80","#3E5CA9","#F2C014","#E5335C","#9DCA4E","#EE8B22","#178B8B","#D0198F","#F4877F","#4A3A8D","#B8B3A4"]}}, "order": {"field": "k", "type": "quantitative", "sort": "descending"}}},
    {"transform": [{"aggregate": [{"op": "count", "as": "n"}], "groupby": ["p"]}], "mark": {"type": "rule", "color": "#808080", "strokeWidth": 0.8}, "encoding": {"y": {"datum": 0, "type": "quantitative"}}},
    {"transform": [{"aggregate": [{"op": "count", "as": "n"}], "groupby": ["p", "t"]}], "mark": {"type": "text", "angle": 270, "align": "right", "baseline": "middle", "fontSize": 7, "color": "#333333"}, "encoding": {"x": {"field": "t", "type": "nominal", "axis": null}, "y": {"datum": -0.04, "type": "quantitative"}, "text": {"field": "t"}}}
   ]}
 ],
 "spacing": 5}
],
"spacing": 3
}
],
"spacing": 6
},
{
"hconcat": [
{
"width": 29, "height": 99,
"data": {"values": [{"c": "Cohort B"}]},
"layer": [
{"mark": {"type": "text", "fontSize": 8, "fontWeight": "bold", "angle": 270, "color": "black"},
 "encoding": {"x": {"datum": 0.69, "type": "quantitative", "scale": {"domain": [0, 1], "nice": false, "zero": false}, "axis": null},
              "y": {"datum": 0.424, "type": "quantitative", "scale": {"domain": [0, 1], "nice": false, "zero": false}, "axis": null},
              "text": {"field": "c"}}},
{"mark": {"type": "rule", "color": "black", "strokeWidth": 1.2},
 "encoding": {"x": {"datum": 0.966, "type": "quantitative"}, "y": {"datum": 0.162, "type": "quantitative"}, "y2": {"datum": 0.646}}}
]
},
{
"vconcat": [
{"width": 170, "height": 11, "data": {"values": [{"g": "Favorable"}]},
 "layer": [
  {"mark": {"type": "rect", "color": "#12A2D9", "opacity": 1},
   "encoding": {"x": {"datum": 0, "type": "quantitative", "scale": {"domain": [0, 1], "nice": false, "zero": false}, "axis": null}, "x2": {"datum": 1}}},
  {"mark": {"type": "text", "color": "white", "fontWeight": "bold", "fontSize": 8},
   "encoding": {"x": {"datum": 0.5, "type": "quantitative"}, "text": {"field": "g"}}}
 ]},
{"data": {"name": "bars"},
 "transform": [
  {"filter": "datum.c == 'B' && datum.g == 'Favorable'"},
  {"fold": ["B","CD4","CD8","DN","DP","gd","Gran","Mono","Myel","NK","NKT","pDC"], "as": ["key","v"]},
  {"filter": "isValid(datum.v)"},
  {"lookup": "key", "from": {"data": {"name": "names"}, "key": "key", "fields": ["cell"]}},
  {"calculate": "indexof(['B','CD4','CD8','DN','DP','gd','Gran','Mono','Myel','NK','NKT','pDC'], datum.key)", "as": "k"}
 ],
 "facet": {"column": {"field": "p", "type": "ordinal", "header": null}}, "spacing": {"column": 5}, "bounds": "flush",
 "spec": {"width": 30, "height": 84,
   "layer": [
    {"mark": "bar", "encoding": {"x": {"field": "t", "type": "nominal", "axis": null, "scale": {"paddingInner": 0.1, "paddingOuter": 0}}, "y": {"field": "v", "type": "quantitative", "stack": "normalize", "axis": null, "scale": {"domain": [0, 1], "nice": false, "zero": false}}, "color": {"field": "cell", "type": "nominal", "legend": {"title": "Cells", "titleFontSize": 7, "titleFontWeight": "normal", "titleColor": "#333333", "titlePadding": 2, "labelFontSize": 7, "labelColor": "#333333", "symbolType": "square", "symbolSize": 40, "symbolStrokeWidth": 0, "rowPadding": 0.5, "offset": 9, "labelOffset": 3}, "scale": {"domain": ["B cells","CD4+ T cells","CD8+ T cells","DN T cells","DP T cells","gd T cells","Granulocytes","Monocytes","Myeloid (HLA-DR+)","NK cells","NKT cells","pDCs"], "range": ["#7E2E93","#3AAB80","#3E5CA9","#F2C014","#E5335C","#9DCA4E","#EE8B22","#178B8B","#D0198F","#F4877F","#4A3A8D","#B8B3A4"]}}, "order": {"field": "k", "type": "quantitative", "sort": "descending"}}},
    {"transform": [{"aggregate": [{"op": "count", "as": "n"}], "groupby": ["p"]}], "mark": {"type": "rule", "color": "#808080", "strokeWidth": 0.8}, "encoding": {"y": {"datum": 0, "type": "quantitative"}}},
    {"transform": [{"aggregate": [{"op": "count", "as": "n"}], "groupby": ["p", "t"]}], "mark": {"type": "text", "angle": 270, "align": "right", "baseline": "middle", "fontSize": 7, "color": "#333333"}, "encoding": {"x": {"field": "t", "type": "nominal", "axis": null}, "y": {"datum": -0.04, "type": "quantitative"}, "text": {"field": "t"}}}
   ]}}
],
"spacing": 4
},
{
"vconcat": [
{"width": 275, "height": 11, "data": {"values": [{"g": "Poor"}]},
 "layer": [
  {"mark": {"type": "rect", "color": "#D8281E", "opacity": 1},
   "encoding": {"x": {"datum": 0, "type": "quantitative", "scale": {"domain": [0, 1], "nice": false, "zero": false}, "axis": null}, "x2": {"datum": 1}}},
  {"mark": {"type": "text", "color": "white", "fontWeight": "bold", "fontSize": 8},
   "encoding": {"x": {"datum": 0.5, "type": "quantitative"}, "text": {"field": "g"}}}
 ]},
{"data": {"name": "bars"},
 "transform": [
  {"filter": "datum.c == 'B' && datum.g == 'Poor'"},
  {"fold": ["B","CD4","CD8","DN","DP","gd","Gran","Mono","Myel","NK","NKT","pDC"], "as": ["key","v"]},
  {"filter": "isValid(datum.v)"},
  {"lookup": "key", "from": {"data": {"name": "names"}, "key": "key", "fields": ["cell"]}},
  {"calculate": "indexof(['B','CD4','CD8','DN','DP','gd','Gran','Mono','Myel','NK','NKT','pDC'], datum.key)", "as": "k"}
 ],
 "facet": {"column": {"field": "p", "type": "ordinal", "header": null}}, "spacing": {"column": 5}, "bounds": "flush",
 "spec": {"width": 30, "height": 84,
   "layer": [
    {"mark": "bar", "encoding": {"x": {"field": "t", "type": "nominal", "axis": null, "scale": {"paddingInner": 0.1, "paddingOuter": 0}}, "y": {"field": "v", "type": "quantitative", "stack": "normalize", "axis": null, "scale": {"domain": [0, 1], "nice": false, "zero": false}}, "color": {"field": "cell", "type": "nominal", "legend": {"title": "Cells", "titleFontSize": 7, "titleFontWeight": "normal", "titleColor": "#333333", "titlePadding": 2, "labelFontSize": 7, "labelColor": "#333333", "symbolType": "square", "symbolSize": 40, "symbolStrokeWidth": 0, "rowPadding": 0.5, "offset": 9, "labelOffset": 3}, "scale": {"domain": ["B cells","CD4+ T cells","CD8+ T cells","DN T cells","DP T cells","gd T cells","Granulocytes","Monocytes","Myeloid (HLA-DR+)","NK cells","NKT cells","pDCs"], "range": ["#7E2E93","#3AAB80","#3E5CA9","#F2C014","#E5335C","#9DCA4E","#EE8B22","#178B8B","#D0198F","#F4877F","#4A3A8D","#B8B3A4"]}}, "order": {"field": "k", "type": "quantitative", "sort": "descending"}}},
    {"transform": [{"aggregate": [{"op": "count", "as": "n"}], "groupby": ["p"]}], "mark": {"type": "rule", "color": "#808080", "strokeWidth": 0.8}, "encoding": {"y": {"datum": 0, "type": "quantitative"}}},
    {"transform": [{"aggregate": [{"op": "count", "as": "n"}], "groupby": ["p", "t"]}], "mark": {"type": "text", "angle": 270, "align": "right", "baseline": "middle", "fontSize": 7, "color": "#333333"}, "encoding": {"x": {"field": "t", "type": "nominal", "axis": null}, "y": {"datum": -0.04, "type": "quantitative"}, "text": {"field": "t"}}}
   ]}}
],
"spacing": 4
}
],
"spacing": 6
}
],
"spacing": 15,
"resolve": {"scale": {"color": "independent"}, "legend": {"color": "independent"}}
},
{
"title": {"text": "B", "anchor": "start", "fontSize": 8.5, "fontWeight": "bold", "offset": 0, "dx": 9, "color": "black"},
"hconcat": [
{"width": 3, "height": 10, "data": {"values": [{}]}, "mark": {"type": "point", "opacity": 0}, "encoding": {}},
{
"vconcat": [
{"width": 162, "height": 14,
 "title": {"text": "CD4+ T cells", "fontSize": 8, "fontWeight": "bold", "offset": 2, "color": "black"},
 "data": {"name": "strips"}, "transform": [{"filter": "datum.cell == 'CD4'"}],
 "encoding": {"x": {"field": "t", "type": "nominal", "axis": null, "scale": {"paddingInner": 0.0488, "paddingOuter": 0}}},
 "layer": [
  {"mark": {"type": "bar", "fill": "#D9D9D9", "stroke": "#7F7F7F", "strokeWidth": 0.8},
   "encoding": {"y": {"datum": 0, "type": "quantitative", "scale": {"domain": [0, 1], "nice": false, "zero": false}, "axis": null}, "y2": {"datum": 1}}},
  {"mark": {"type": "text", "fontSize": 6.5, "color": "#333333"}, "encoding": {"text": {"field": "lab"}}}
 ]},
{"data": {"name": "box"},
 "transform": [{"filter": "datum.cell == 'CD4'"}, {"fold": ["Base","C1","C3","C4"], "as": ["t","v"]}, {"filter": "isValid(datum.v)"}],
 "facet": {"column": {"field": "t", "type": "nominal", "header": null}},
 "spacing": {"column": 2},
 "bounds": "flush",
 "spec": {
  "width": 39, "height": 89,
  "view": {"stroke": "#8C8C8C", "strokeWidth": 0.8},
  "encoding": {"y": {"field": "v", "type": "quantitative", "scale": {"domain": [-1.0, 61.9], "nice": false, "zero": false},
     "axis": {"values": [20, 40, 60], "title": "% of total cells", "titleFontSize": 6.5, "titleFontWeight": "normal", "titleColor": "#333333", "titlePadding": 1.5, "labelFontSize": 6.5, "labelColor": "#4D4D4D", "labelPadding": 1, "tickSize": 2.5, "tickColor": "#4D4D4D", "tickWidth": 0.8, "domain": false, "grid": false}}},
  "layer": [
   {"transform": [{"filter": "datum.g == 'Favorable'"}],
    "mark": {"type": "boxplot", "extent": 1.5, "size": 13, "box": {"fill": "white", "stroke": "#377EB8", "strokeWidth": 0.8}, "median": {"color": "#377EB8", "thickness": 1.3}, "rule": {"color": "#377EB8", "strokeWidth": 0.8}, "outliers": {"color": "black", "filled": true, "size": 7}},
    "encoding": {"x": {"field": "g", "type": "nominal", "axis": null, "scale": {"domain": ["Favorable", "Poor"], "paddingInner": 0, "paddingOuter": 0.1}}}},
   {"transform": [{"filter": "datum.g == 'Poor'"}],
    "mark": {"type": "boxplot", "extent": 1.5, "size": 13, "box": {"fill": "white", "stroke": "#E41A1C", "strokeWidth": 0.8}, "median": {"color": "#E41A1C", "thickness": 1.3}, "rule": {"color": "#E41A1C", "strokeWidth": 0.8}, "outliers": {"color": "black", "filled": true, "size": 7}},
    "encoding": {"x": {"field": "g", "type": "nominal", "axis": null, "scale": {"domain": ["Favorable", "Poor"], "paddingInner": 0, "paddingOuter": 0.1}}}},
   {"mark": {"type": "circle", "size": 7, "opacity": 1},
    "encoding": {"x": {"field": "g", "type": "nominal", "axis": null, "scale": {"domain": ["Favorable", "Poor"], "paddingInner": 0, "paddingOuter": 0.1}},
                 "xOffset": {"field": "id", "type": "nominal", "scale": {"paddingOuter": 4.5}},
                 "color": {"field": "g", "type": "nominal", "legend": null, "scale": {"domain": ["Favorable", "Poor"], "range": ["#377EB8", "#E41A1C"]}}}},
   {"transform": [{"aggregate": [{"op": "count", "as": "n"}], "groupby": ["t"]}],
    "mark": {"type": "rule", "color": "#333333", "strokeWidth": 1.2},
    "encoding": {"y": {"datum": 61.9, "type": "quantitative"}}}
  ]
 }}
],
"spacing": 0
},
{
"vconcat": [
{"width": 162, "height": 14,
 "title": {"text": "CD8+ T cells", "fontSize": 8, "fontWeight": "bold", "offset": 2, "color": "black"},
 "data": {"name": "strips"}, "transform": [{"filter": "datum.cell == 'CD8'"}],
 "encoding": {"x": {"field": "t", "type": "nominal", "axis": null, "scale": {"paddingInner": 0.0488, "paddingOuter": 0}}},
 "layer": [
  {"mark": {"type": "bar", "fill": "#D9D9D9", "stroke": "#7F7F7F", "strokeWidth": 0.8},
   "encoding": {"y": {"datum": 0, "type": "quantitative", "scale": {"domain": [0, 1], "nice": false, "zero": false}, "axis": null}, "y2": {"datum": 1}}},
  {"mark": {"type": "text", "fontSize": 6.5, "color": "#333333"}, "encoding": {"text": {"field": "lab"}}}
 ]},
{"data": {"name": "box"},
 "transform": [{"filter": "datum.cell == 'CD8'"}, {"fold": ["Base","C1","C3","C4"], "as": ["t","v"]}, {"filter": "isValid(datum.v)"}],
 "facet": {"column": {"field": "t", "type": "nominal", "header": null}},
 "spacing": {"column": 2},
 "bounds": "flush",
 "spec": {
  "width": 39, "height": 89,
  "view": {"stroke": "#8C8C8C", "strokeWidth": 0.8},
  "encoding": {"y": {"field": "v", "type": "quantitative", "scale": {"domain": [1.5, 41.1], "nice": false, "zero": false},
     "axis": {"values": [10, 20, 30, 40], "title": "% of total cells", "titleFontSize": 6.5, "titleFontWeight": "normal", "titleColor": "#333333", "titlePadding": 1.5, "labelFontSize": 6.5, "labelColor": "#4D4D4D", "labelPadding": 1, "tickSize": 2.5, "tickColor": "#4D4D4D", "tickWidth": 0.8, "domain": false, "grid": false}}},
  "layer": [
   {"transform": [{"filter": "datum.g == 'Favorable'"}],
    "mark": {"type": "boxplot", "extent": 1.5, "size": 13, "box": {"fill": "white", "stroke": "#377EB8", "strokeWidth": 0.8}, "median": {"color": "#377EB8", "thickness": 1.3}, "rule": {"color": "#377EB8", "strokeWidth": 0.8}, "outliers": {"color": "black", "filled": true, "size": 7}},
    "encoding": {"x": {"field": "g", "type": "nominal", "axis": null, "scale": {"domain": ["Favorable", "Poor"], "paddingInner": 0, "paddingOuter": 0.1}}}},
   {"transform": [{"filter": "datum.g == 'Poor'"}],
    "mark": {"type": "boxplot", "extent": 1.5, "size": 13, "box": {"fill": "white", "stroke": "#E41A1C", "strokeWidth": 0.8}, "median": {"color": "#E41A1C", "thickness": 1.3}, "rule": {"color": "#E41A1C", "strokeWidth": 0.8}, "outliers": {"color": "black", "filled": true, "size": 7}},
    "encoding": {"x": {"field": "g", "type": "nominal", "axis": null, "scale": {"domain": ["Favorable", "Poor"], "paddingInner": 0, "paddingOuter": 0.1}}}},
   {"mark": {"type": "circle", "size": 7, "opacity": 1},
    "encoding": {"x": {"field": "g", "type": "nominal", "axis": null, "scale": {"domain": ["Favorable", "Poor"], "paddingInner": 0, "paddingOuter": 0.1}},
                 "xOffset": {"field": "id", "type": "nominal", "scale": {"paddingOuter": 4.5}},
                 "color": {"field": "g", "type": "nominal", "legend": null, "scale": {"domain": ["Favorable", "Poor"], "range": ["#377EB8", "#E41A1C"]}}}},
   {"transform": [{"aggregate": [{"op": "count", "as": "n"}], "groupby": ["t"]}],
    "mark": {"type": "rule", "color": "#333333", "strokeWidth": 1.2},
    "encoding": {"y": {"datum": 41.1, "type": "quantitative"}}}
  ]
 }}
],
"spacing": 0
},
{
"vconcat": [
{"width": 162, "height": 14,
 "title": {"text": "B cells", "fontSize": 8, "fontWeight": "bold", "offset": 2, "color": "black"},
 "data": {"name": "strips"}, "transform": [{"filter": "datum.cell == 'B'"}],
 "encoding": {"x": {"field": "t", "type": "nominal", "axis": null, "scale": {"paddingInner": 0.0488, "paddingOuter": 0}}},
 "layer": [
  {"mark": {"type": "bar", "fill": "#D9D9D9", "stroke": "#7F7F7F", "strokeWidth": 0.8},
   "encoding": {"y": {"datum": 0, "type": "quantitative", "scale": {"domain": [0, 1], "nice": false, "zero": false}, "axis": null}, "y2": {"datum": 1}}},
  {"mark": {"type": "text", "fontSize": 6.5, "color": "#333333"}, "encoding": {"text": {"field": "lab"}}}
 ]},
{"data": {"name": "box"},
 "transform": [{"filter": "datum.cell == 'B'"}, {"fold": ["Base","C1","C3","C4"], "as": ["t","v"]}, {"filter": "isValid(datum.v)"}],
 "facet": {"column": {"field": "t", "type": "nominal", "header": null}},
 "spacing": {"column": 2},
 "bounds": "flush",
 "spec": {
  "width": 39, "height": 89,
  "view": {"stroke": "#8C8C8C", "strokeWidth": 0.8},
  "encoding": {"y": {"field": "v", "type": "quantitative", "scale": {"domain": [-1.4, 31.0], "nice": false, "zero": false},
     "axis": {"values": [10, 20, 30], "title": "% of total cells", "titleFontSize": 6.5, "titleFontWeight": "normal", "titleColor": "#333333", "titlePadding": 1.5, "labelFontSize": 6.5, "labelColor": "#4D4D4D", "labelPadding": 1, "tickSize": 2.5, "tickColor": "#4D4D4D", "tickWidth": 0.8, "domain": false, "grid": false}}},
  "layer": [
   {"transform": [{"filter": "datum.g == 'Favorable'"}],
    "mark": {"type": "boxplot", "extent": 1.5, "size": 13, "box": {"fill": "white", "stroke": "#377EB8", "strokeWidth": 0.8}, "median": {"color": "#377EB8", "thickness": 1.3}, "rule": {"color": "#377EB8", "strokeWidth": 0.8}, "outliers": {"color": "black", "filled": true, "size": 7}},
    "encoding": {"x": {"field": "g", "type": "nominal", "axis": null, "scale": {"domain": ["Favorable", "Poor"], "paddingInner": 0, "paddingOuter": 0.1}}}},
   {"transform": [{"filter": "datum.g == 'Poor'"}],
    "mark": {"type": "boxplot", "extent": 1.5, "size": 13, "box": {"fill": "white", "stroke": "#E41A1C", "strokeWidth": 0.8}, "median": {"color": "#E41A1C", "thickness": 1.3}, "rule": {"color": "#E41A1C", "strokeWidth": 0.8}, "outliers": {"color": "black", "filled": true, "size": 7}},
    "encoding": {"x": {"field": "g", "type": "nominal", "axis": null, "scale": {"domain": ["Favorable", "Poor"], "paddingInner": 0, "paddingOuter": 0.1}}}},
   {"mark": {"type": "circle", "size": 7, "opacity": 1},
    "encoding": {"x": {"field": "g", "type": "nominal", "axis": null, "scale": {"domain": ["Favorable", "Poor"], "paddingInner": 0, "paddingOuter": 0.1}},
                 "xOffset": {"field": "id", "type": "nominal", "scale": {"paddingOuter": 4.5}},
                 "color": {"field": "g", "type": "nominal", "legend": null, "scale": {"domain": ["Favorable", "Poor"], "range": ["#377EB8", "#E41A1C"]}}}},
   {"transform": [{"aggregate": [{"op": "count", "as": "n"}], "groupby": ["t"]}],
    "mark": {"type": "rule", "color": "#333333", "strokeWidth": 1.2},
    "encoding": {"y": {"datum": 31.0, "type": "quantitative"}}}
  ]
 }}
],
"spacing": 0
}
],
"spacing": 3
}
],
"spacing": 5,
"resolve": {"scale": {"color": "independent"}, "legend": {"color": "independent"}}
}
